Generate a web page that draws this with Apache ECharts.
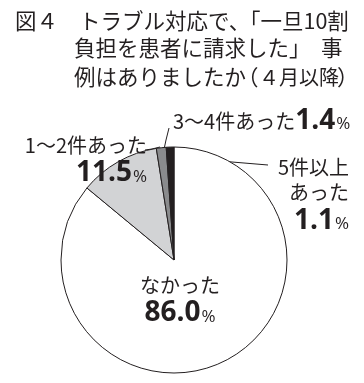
<!DOCTYPE html>
<html><head><meta charset="utf-8">
<script src="https://cdn.jsdelivr.net/npm/echarts@6/dist/echarts.min.js"></script>
<style>html,body{margin:0;padding:0;background:#fff}#c{width:364px;height:383px}</style>
</head><body><div id="c"></div>
<script>
const titleNo = '図４';
const titleLine1 = ['トラブル対応で、', '「一旦10割'];
const titleLine2 = ['負担を患者に請求した」', '事'];
const titleLine3 = ['例はありましたか', '（', '４月以降', '）'];
const categories = ['なかった', '1～2件あった', '3～4件あった', '5件以上あった'];
const values = [86.0, 11.5, 1.4, 1.1];
const colors = ['#ffffff', '#d2d3d5', '#8a8b8d', '#231f20'];

const ink = '#231f20';
const jp = '"Noto Sans CJK JP", sans-serif';
const rich = {
  a: { fontSize: 20, fontFamily: jp, color: ink, lineHeight: 25 },
  b: { fontSize: 28, fontWeight: 'bold', fontFamily: '"Open Sans", sans-serif', color: ink, lineHeight: 32 },
  c: { fontSize: 17, fontFamily: '"Open Sans", sans-serif', color: ink, lineHeight: 32, padding: [7, 0, 0, 1] }
};
function fmt(v) { return '{b|' + v.toFixed(1) + '}{c|%}'; }
const labelTexts = [
  '{a|' + categories[0] + '}\n' + fmt(values[0]),
  '{a|' + categories[1] + '}\n' + fmt(values[1]),
  '{a|' + categories[2] + '}' + fmt(values[2]),
  '{a|5件以上}\n{a|あった}\n' + fmt(values[3])
];

function t(text, x, y, size) {
  return { type: 'text', x: x, y: y, silent: true,
    style: { text: text, font: (size || 21.5) + 'px ' + jp, fill: ink, verticalAlign: 'middle', align: 'left' } };
}

const chart = echarts.init(document.getElementById('c'));
chart.setOption({
  animation: false,
  graphic: [
    t(titleNo, 15, 21),
    t(titleLine1[0], 79, 21),
    t(titleLine1[1], 239, 21),
    t(titleLine2[0], 74, 48),
    t(titleLine2[1], 321, 48),
    t(titleLine3[0], 74, 77),
    t(titleLine3[1], 237, 77),
    t(titleLine3[2], 259, 77, 20),
    t(titleLine3[3], 337, 77)
  ],
  series: [{
    type: 'pie',
    center: [174, 260],
    radius: 113,
    startAngle: 90,
    clockwise: true,
    silent: true,
    avoidLabelOverlap: false,
    itemStyle: { borderColor: ink, borderWidth: 1 },
    label: {
      show: true,
      overflow: 'none',
      formatter: p => labelTexts[p.dataIndex],
      rich: rich
    },
    labelLine: { show: true, lineStyle: { color: ink, width: 1 } },
    labelLayout: function (p) {
      const i = p.dataIndex;
      const base = { hideOverlap: false, moveOverlap: null };
      if (i === 0) return Object.assign(base, { x: 180, y: 301, align: 'center', verticalAlign: 'middle' });
      if (i === 1) return Object.assign(base, { x: 147, y: 161, align: 'right', verticalAlign: 'middle',
        labelLinePoints: [[145, 150], [152, 149], [160, 147]] });
      if (i === 2) return Object.assign(base, { x: 173, y: 121, align: 'left', verticalAlign: 'middle',
        labelLinePoints: [[169, 128], [166, 140], [163, 154]] });
      return Object.assign(base, { x: 349, y: 196, align: 'right', verticalAlign: 'middle',
        labelLinePoints: [[268, 165], [220, 161], [171, 157]] });
    },
    data: values.map((v, i) => ({
      name: categories[i], value: v,
      itemStyle: { color: colors[i] },
      labelLine: { show: i !== 0 }
    }))
  }]
});
</script></body></html>
